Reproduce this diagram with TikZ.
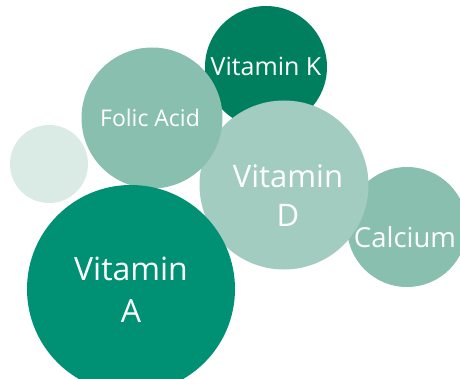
\documentclass[tikz,border=0pt]{standalone}
\usepackage{fontspec}
\setmainfont{Open Sans}
\definecolor{cA}{HTML}{009175}
\definecolor{cK}{HTML}{007F5F}
\definecolor{cF}{HTML}{88BFAF}
\definecolor{cD}{HTML}{A3CCC0}
\definecolor{cL}{HTML}{DAEAE5}
\tikzset{
  bubble/.style={circle, inner sep=0pt, draw=none},
  lbl/.style={text=white, align=center, inner sep=0pt}
}
\begin{document}
\begin{tikzpicture}[x=1pt,y=-1pt]
\useasboundingbox (0,0) rectangle (460,379);
\clip (0,0) rectangle (460,379);
\node[bubble, fill=cL, minimum size=78pt] (l) at (49,164) {};
\node[bubble, fill=cK, minimum size=122pt] (k) at (266,67) {};
\node[bubble, fill=cF, minimum size=120pt] (c) at (407,227) {};
\node[bubble, fill=cD, minimum size=169pt] (d) at (284,185) {};
\node[bubble, fill=cF, minimum size=141pt] (f) at (152,118) {};
\node[bubble, fill=cA, minimum size=208pt] (a) at (131,289) {};
\node[lbl, font=\fontsize{25}{30}\selectfont] (kt) at (266,66) {Vitamin K};
\node[lbl, font=\fontsize{23}{30}\selectfont] (ft) at (150,118) {Folic Acid};
\node[lbl, font=\fontsize{31}{39}\selectfont] (dt) at (288,196) {Vitamin\\D};
\node[lbl, font=\fontsize{27.5}{36}\selectfont] (ct) at (405,237) {Calcium};
\node[lbl, font=\fontsize{32}{42}\selectfont] (at) at (131,290) {Vitamin\\A};
\end{tikzpicture}
\end{document}
